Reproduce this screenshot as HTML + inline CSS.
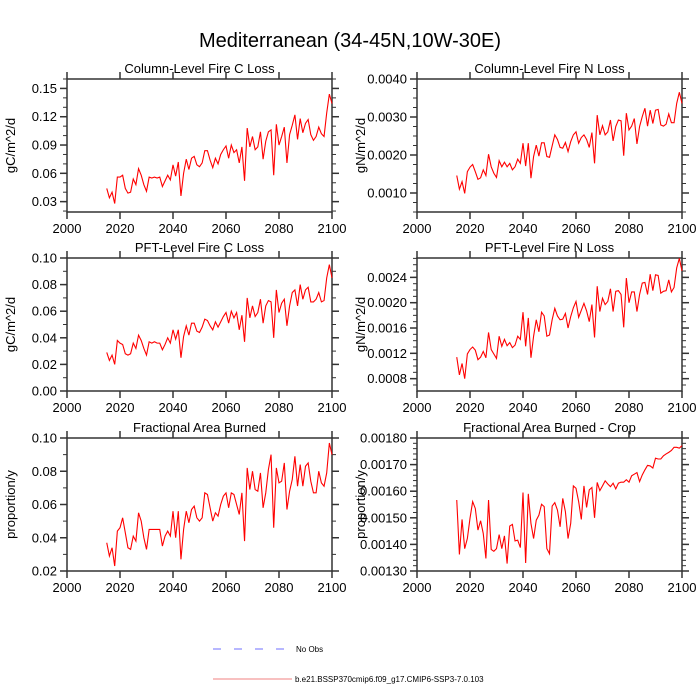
<!DOCTYPE html>
<html><head><meta charset="utf-8"><style>
body{margin:0;background:#fff}
svg{display:block;font-family:"Liberation Sans",sans-serif}
</style></head><body>
<svg id="chart" width="700" height="700" viewBox="0 0 700 700">
<text x="350" y="47" text-anchor="middle" font-size="20">Mediterranean (34-45N,10W-30E)</text>
<g>
<line x1="213" y1="649" x2="287" y2="649" stroke="#6f6fff" stroke-width="1" stroke-dasharray="8,13"/>
<text x="296" y="652" font-size="8">No Obs</text>
<line x1="213" y1="679" x2="292" y2="679" stroke="#f08080" stroke-width="1"/>
<text x="295" y="682" font-size="8">b.e21.BSSP370cmip6.f09_g17.CMIP6-SSP3-7.0.103</text>
</g>
</svg>
<script>
const years = []; for (let y = 2015; y <= 2100; y++) years.push(y);
const xTicks = [2000, 2020, 2040, 2060, 2080, 2100];
const colC = [0.044,0.034,0.040,0.028,0.056,0.056,0.058,0.044,0.039,0.040,0.054,0.048,0.065,0.058,0.048,0.041,0.056,0.055,0.056,0.055,0.056,0.046,0.052,0.058,0.053,0.069,0.057,0.072,0.036,0.060,0.075,0.064,0.076,0.078,0.069,0.067,0.071,0.084,0.084,0.074,0.066,0.076,0.070,0.080,0.085,0.089,0.076,0.090,0.082,0.085,0.071,0.088,0.052,0.108,0.088,0.099,0.085,0.088,0.104,0.075,0.094,0.104,0.106,0.058,0.112,0.090,0.099,0.109,0.071,0.101,0.111,0.122,0.096,0.118,0.103,0.113,0.117,0.101,0.095,0.099,0.109,0.102,0.099,0.124,0.144,0.134];
const colN = [0.00146,0.00110,0.00130,0.00099,0.00156,0.00168,0.00175,0.00156,0.00136,0.00140,0.00161,0.00146,0.00202,0.00169,0.00152,0.00141,0.00185,0.00169,0.00181,0.00169,0.00178,0.00161,0.00169,0.00189,0.00178,0.00231,0.00171,0.00231,0.00139,0.00196,0.00226,0.00197,0.00232,0.00232,0.00196,0.00194,0.00224,0.00253,0.00241,0.00220,0.00218,0.00233,0.00209,0.00235,0.00253,0.00261,0.00231,0.00246,0.00253,0.00241,0.00220,0.00259,0.00178,0.00305,0.00253,0.00277,0.00253,0.00261,0.00292,0.00237,0.00275,0.00292,0.00290,0.00198,0.00310,0.00266,0.00276,0.00296,0.00229,0.00275,0.00301,0.00323,0.00276,0.00318,0.00283,0.00318,0.00320,0.00279,0.00276,0.00281,0.00308,0.00285,0.00285,0.00336,0.00365,0.00336];
const pftC = [0.029,0.023,0.027,0.020,0.038,0.036,0.035,0.028,0.027,0.028,0.036,0.032,0.042,0.038,0.032,0.027,0.037,0.036,0.037,0.036,0.036,0.031,0.035,0.040,0.036,0.046,0.039,0.046,0.025,0.041,0.049,0.042,0.051,0.051,0.045,0.044,0.048,0.054,0.053,0.049,0.046,0.052,0.048,0.052,0.056,0.059,0.051,0.060,0.055,0.059,0.046,0.057,0.037,0.070,0.055,0.064,0.056,0.059,0.069,0.051,0.064,0.068,0.067,0.040,0.076,0.059,0.066,0.069,0.049,0.064,0.074,0.076,0.064,0.080,0.069,0.076,0.078,0.067,0.067,0.069,0.074,0.067,0.068,0.085,0.095,0.085];
const pftN = [0.00114,0.00086,0.00104,0.00080,0.00119,0.00126,0.00130,0.00125,0.00110,0.00114,0.00123,0.00113,0.00153,0.00126,0.00119,0.00112,0.00147,0.00131,0.00142,0.00132,0.00137,0.00129,0.00133,0.00147,0.00142,0.00185,0.00131,0.00176,0.00113,0.00147,0.00173,0.00154,0.00185,0.00179,0.00147,0.00149,0.00173,0.00191,0.00179,0.00173,0.00174,0.00183,0.00160,0.00178,0.00192,0.00202,0.00177,0.00188,0.00199,0.00187,0.00170,0.00197,0.00145,0.00226,0.00186,0.00207,0.00197,0.00202,0.00222,0.00186,0.00218,0.00219,0.00213,0.00161,0.00239,0.00200,0.00217,0.00217,0.00186,0.00213,0.00231,0.00232,0.00213,0.00245,0.00219,0.00244,0.00243,0.00215,0.00218,0.00219,0.00236,0.00217,0.00224,0.00255,0.00270,0.00250];
const fracArea = [0.037,0.029,0.034,0.023,0.044,0.046,0.052,0.043,0.034,0.033,0.041,0.038,0.055,0.050,0.040,0.033,0.045,0.045,0.045,0.045,0.045,0.035,0.041,0.044,0.041,0.056,0.040,0.056,0.027,0.045,0.056,0.049,0.057,0.059,0.052,0.050,0.052,0.067,0.066,0.058,0.050,0.055,0.053,0.060,0.065,0.067,0.058,0.067,0.066,0.060,0.054,0.067,0.038,0.082,0.069,0.080,0.069,0.068,0.079,0.058,0.067,0.081,0.090,0.046,0.082,0.073,0.074,0.085,0.057,0.068,0.075,0.089,0.071,0.084,0.071,0.083,0.085,0.074,0.067,0.067,0.080,0.073,0.071,0.079,0.097,0.090];
const fracCrop = [0.001567,0.001362,0.001494,0.001384,0.001422,0.001498,0.001561,0.001535,0.001454,0.001489,0.001441,0.001347,0.001567,0.001381,0.001374,0.001384,0.001437,0.001384,0.001432,0.001328,0.001469,0.001475,0.001413,0.001416,0.001388,0.001595,0.001330,0.001590,0.001479,0.001422,0.001491,0.001510,0.001551,0.001542,0.001384,0.001365,0.001544,0.001557,0.001529,0.001466,0.001573,0.001523,0.001422,0.001479,0.001620,0.001611,0.001561,0.001494,0.001620,0.001539,0.001605,0.001614,0.001500,0.001633,0.001602,0.001620,0.001639,0.001627,0.001617,0.001630,0.001609,0.001630,0.001634,0.001634,0.001643,0.001634,0.001658,0.001664,0.001670,0.001636,0.001661,0.001680,0.001697,0.001695,0.001687,0.001724,0.001721,0.001721,0.001733,0.001740,0.001746,0.001753,0.001765,0.001765,0.001762,0.001771];
const ticks1 = [0.03,0.06,0.09,0.12,0.15];
const ticks2 = [0.0010,0.0020,0.0030,0.0040];
const ticks3 = [0.00,0.02,0.04,0.06,0.08,0.10];
const ticks4 = [0.0008,0.0012,0.0016,0.0020,0.0024];
const ticks5 = [0.02,0.04,0.06,0.08,0.10];
const ticks6 = [0.00130,0.00140,0.00150,0.00160,0.00170,0.00180];

const NS = 'http://www.w3.org/2000/svg';
const svg = document.getElementById('chart');
function mk(tag, attrs, parent) {
  const e = document.createElementNS(NS, tag);
  for (const k in attrs) e.setAttribute(k, attrs[k]);
  parent.appendChild(e);
  return e;
}
const panels = [
  {id:'column-fire-c-loss', title:'Column-Level Fire C Loss', ylab:'gC/m^2/d', x0:67, y0:79, data:colC, ticks:ticks1, dec:2, ymin:0.019, ymax:0.16, minor:0.01},
  {id:'column-fire-n-loss', title:'Column-Level Fire N Loss', ylab:'gN/m^2/d', x0:417, y0:79, data:colN, ticks:ticks2, dec:4, ymin:0.0005, ymax:0.0040, minor:0.00025},
  {id:'pft-fire-c-loss', title:'PFT-Level Fire C Loss', ylab:'gC/m^2/d', x0:67, y0:258, data:pftC, ticks:ticks3, dec:2, ymin:0, ymax:0.10, minor:0.01},
  {id:'pft-fire-n-loss', title:'PFT-Level Fire N Loss', ylab:'gN/m^2/d', x0:417, y0:258, data:pftN, ticks:ticks4, dec:4, ymin:0.000605, ymax:0.002706, minor:0.0001},
  {id:'fractional-area-burned', title:'Fractional Area Burned', ylab:'proportion/y', x0:67, y0:438, data:fracArea, ticks:ticks5, dec:2, ymin:0.02, ymax:0.10, minor:0.01},
  {id:'fractional-area-burned-crop', title:'Fractional Area Burned - Crop', ylab:'proportion/y', x0:417, y0:438, data:fracCrop, ticks:ticks6, dec:5, ymin:0.0013, ymax:0.0018, minor:0.00002}
];
const W = 265, H = 133;
const AX = '#333';
panels.forEach(p => {
  const g = mk('g', {}, svg);
  
  
  const xs = v => p.x0 + (v - 2000) / 100 * W;
  const ys = v => p.y0 + H - (v - p.ymin) / (p.ymax - p.ymin) * H;
  const t = mk('text', {x: p.x0 + W/2, y: p.y0 - 6, 'text-anchor':'middle', 'font-size':13}, g);
  
  
  t.textContent = p.title;
  const yl = mk('text', {x:0, y:0, 'text-anchor':'middle', 'font-size':13, transform:`translate(${p.x0-52},${p.y0+H/2}) rotate(-90)`}, g);
  
  
  yl.textContent = p.ylab;
  // minor y ticks
  const n0 = Math.ceil(p.ymin / p.minor - 1e-6), n1 = Math.floor(p.ymax / p.minor + 1e-6);
  for (let i = n0; i <= n1; i++) {
    const yy = ys(i * p.minor);
    const m1 = mk('line', {x1:p.x0-4, x2:p.x0, y1:yy, y2:yy, stroke:AX, 'stroke-width':1}, g);
    
    
    const m2 = mk('line', {x1:p.x0+W, x2:p.x0+W+4, y1:yy, y2:yy, stroke:AX, 'stroke-width':1}, g);
    
    
  }
  p.ticks.forEach(v => {
    const yy = ys(v);
    const tk = mk('line', {x1:p.x0-7, x2:p.x0, y1:yy, y2:yy, stroke:AX, 'stroke-width':1.5}, g);
    
    
    const tk2 = mk('line', {x1:p.x0+W, x2:p.x0+W+7, y1:yy, y2:yy, stroke:AX, 'stroke-width':1.5}, g);
    
    
    const lb = mk('text', {x:p.x0-10, y:yy+4.5, 'text-anchor':'end', 'font-size':13}, g);
    
    
    lb.textContent = v.toFixed(p.dec);
  });
  xTicks.forEach(v => {
    const xx = xs(v);
    const tk = mk('line', {x1:xx, x2:xx, y1:p.y0+H, y2:p.y0+H+7, stroke:AX, 'stroke-width':1.5}, g);
    
    
    const tk2 = mk('line', {x1:xx, x2:xx, y1:p.y0-7, y2:p.y0, stroke:AX, 'stroke-width':1.5}, g);
    
    
    const lb = mk('text', {x:xx, y:p.y0+H+21, 'text-anchor':'middle', 'font-size':13}, g);
    
    
    lb.textContent = v;
  });
  const fr = mk('rect', {x:p.x0, y:p.y0, width:W, height:H, fill:'none', stroke:AX, 'stroke-width':1.5}, g);
  
  
  const pts = p.data.map((v, i) => xs(years[i]).toFixed(2) + ',' + ys(v).toFixed(2)).join(' ');
  const ln = mk('polyline', {points:pts, fill:'none', stroke:'#ff0000', 'stroke-width':1.1}, g);
  
  
});
</script>
</body></html>
